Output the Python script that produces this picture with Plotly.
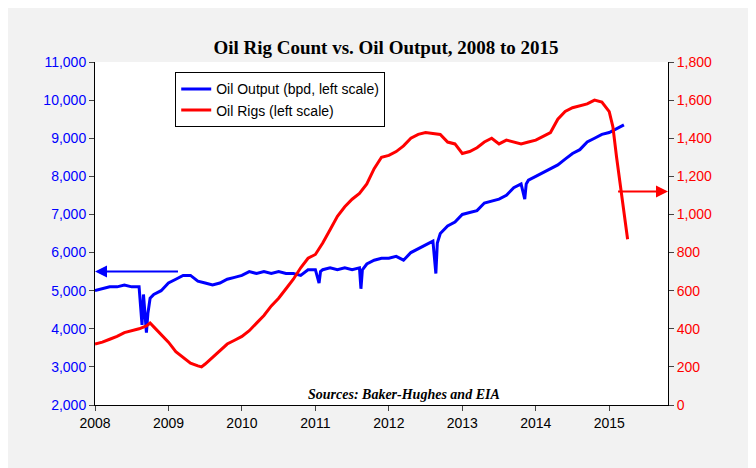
import plotly.graph_objects as go

out_x = [2008.0,2008.1,2008.2,2008.3,2008.4,2008.5,2008.6,2008.64,2008.66,2008.7,2008.72,2008.75,2008.8,2008.9,2009.0,2009.1,2009.2,2009.3,2009.4,2009.5,2009.6,2009.7,2009.8,2009.9,2010.0,2010.1,2010.2,2010.3,2010.4,2010.5,2010.6,2010.7,2010.8,2010.9,2011.0,2011.05,2011.07,2011.1,2011.2,2011.3,2011.4,2011.5,2011.6,2011.62,2011.64,2011.7,2011.8,2011.9,2012.0,2012.1,2012.2,2012.3,2012.4,2012.5,2012.6,2012.64,2012.66,2012.7,2012.75,2012.8,2012.9,2013.0,2013.1,2013.2,2013.3,2013.4,2013.5,2013.6,2013.7,2013.8,2013.85,2013.87,2013.9,2014.0,2014.1,2014.2,2014.3,2014.4,2014.5,2014.6,2014.7,2014.8,2014.9,2015.0,2015.1,2015.2]
out_y = [5000,5050,5100,5100,5150,5100,5100,4100,4900,3900,4400,4800,4900,5000,5200,5300,5400,5400,5250,5200,5150,5200,5300,5350,5400,5500,5450,5500,5450,5500,5450,5450,5400,5550,5550,5200,5500,5550,5600,5550,5600,5550,5600,5050,5550,5700,5800,5850,5850,5900,5800,6000,6100,6200,6300,5450,6250,6500,6600,6700,6800,7000,7050,7100,7300,7350,7400,7500,7700,7800,7400,7800,7900,8000,8100,8200,8300,8450,8600,8700,8900,9000,9100,9150,9250,9350]

rig_x = [2008.0,2008.1,2008.2,2008.3,2008.4,2008.5,2008.6,2008.7,2008.75,2008.8,2008.9,2009.0,2009.1,2009.2,2009.3,2009.4,2009.45,2009.5,2009.6,2009.7,2009.8,2009.9,2010.0,2010.1,2010.2,2010.3,2010.4,2010.5,2010.6,2010.7,2010.8,2010.9,2011.0,2011.1,2011.2,2011.3,2011.4,2011.5,2011.6,2011.7,2011.8,2011.9,2012.0,2012.1,2012.2,2012.3,2012.4,2012.5,2012.6,2012.7,2012.8,2012.9,2013.0,2013.1,2013.2,2013.3,2013.4,2013.5,2013.6,2013.7,2013.8,2013.9,2014.0,2014.1,2014.2,2014.3,2014.4,2014.5,2014.6,2014.7,2014.8,2014.9,2015.0,2015.05,2015.1,2015.15,2015.2,2015.25]
rig_y = [320,330,345,360,380,390,400,415,430,410,370,330,280,250,220,205,200,215,250,290,320,340,360,390,430,470,520,560,610,660,720,770,790,850,920,990,1040,1080,1110,1160,1240,1300,1310,1330,1360,1400,1420,1430,1425,1420,1380,1370,1320,1330,1350,1380,1400,1370,1390,1380,1370,1380,1390,1410,1430,1500,1540,1560,1570,1580,1600,1590,1540,1460,1300,1150,1030,870]

fig = go.Figure()
fig.add_trace(go.Scatter(x=out_x, y=out_y, mode="lines", name="Oil Output (bpd, left scale)", line=dict(color="#0000ff", width=3)))
fig.add_trace(go.Scatter(x=rig_x, y=rig_y, mode="lines", name="Oil Rigs (left scale)", line=dict(color="#ff0000", width=3), yaxis="y2"))

fig.add_annotation(x=2008.0, y=5500, ax=2009.15, ay=5500, xref="x", yref="y", axref="x", ayref="y", showarrow=True, arrowhead=2, arrowsize=1.2, arrowwidth=2, arrowcolor="#0000ff", text="")
fig.add_annotation(x=2015.8, y=1120, ax=2015.1, ay=1120, xref="x", yref="y2", axref="x", ayref="y2", showarrow=True, arrowhead=2, arrowsize=1.2, arrowwidth=2, arrowcolor="#ff0000", text="")
fig.add_annotation(x=2012.2, y=2280, xref="x", yref="y", showarrow=False, text="<b><i>Sources: Baker-Hughes and EIA</i></b>", font=dict(family="Liberation Serif", size=14, color="black"))

fig.update_layout(
    width=756, height=468, paper_bgcolor="#f2f2f2", plot_bgcolor="white",
    margin=dict(l=87, r=96, t=54, b=71),
    title=dict(text="<b>Oil Rig Count vs. Oil Output, 2008 to 2015</b>", x=0.5, xanchor="center", y=0.93, font=dict(family="Liberation Serif", size=19, color="black")),
    font=dict(family="Liberation Sans", size=14),
    xaxis=dict(range=[2008, 2015.8], tickvals=list(range(2008, 2016)), ticks="outside", showgrid=False, linecolor="black", tickfont=dict(color="black"), mirror=False),
    yaxis=dict(range=[2000, 11000], dtick=1000, tickformat=",", ticks="outside", showgrid=False, tickfont=dict(color="#0000ff"), linecolor="black"),
    yaxis2=dict(range=[0, 1800], dtick=200, tickformat=",", overlaying="y", side="right", ticks="outside", showgrid=False, tickfont=dict(color="#ff0000"), linecolor="black"),
    legend=dict(x=0.14, y=0.97, bgcolor="white", bordercolor="black", borderwidth=1, font=dict(size=14, color="black")),
    showlegend=True,
)
fig.write_html("out.html")
